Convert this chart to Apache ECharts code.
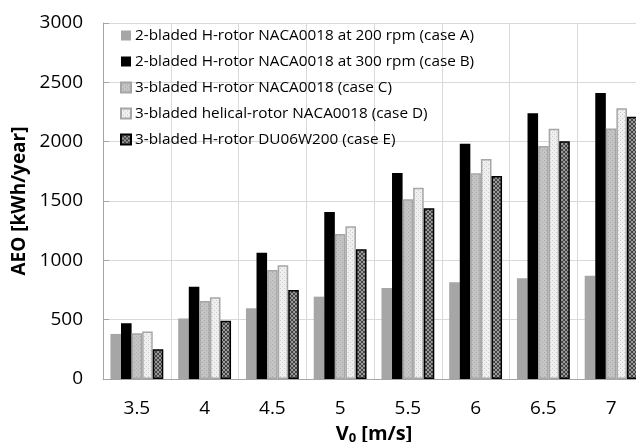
<!DOCTYPE html>
<html><head><meta charset="utf-8">
<script src="https://cdn.jsdelivr.net/npm/echarts@6/dist/echarts.min.js"></script>
<style>html,body{margin:0;padding:0;background:#fff}#c{width:636px;height:442px}</style>
</head><body><div id="c"></div>
<script>
const categories = ['3.5','4','4.5','5','5.5','6','6.5','7'];
const seriesNames = [
  '2-bladed H-rotor NACA0018 at 200 rpm (case A)',
  '2-bladed H-rotor NACA0018 at 300 rpm (case B)',
  '3-bladed H-rotor NACA0018 (case C)',
  '3-bladed helical-rotor NACA0018 (case D)',
  '3-bladed H-rotor DU06W200 (case E)'
];
const caseA = [380, 510, 596, 694, 767, 815, 848, 871];
const caseB = [470, 778, 1064, 1407, 1736, 1983, 2239, 2410];
const caseC = [385, 657, 918, 1222, 1514, 1733, 1963, 2112];
const caseD = [400, 688, 958, 1287, 1612, 1854, 2109, 2281];
const caseE = [250, 490, 750, 1093, 1438, 1711, 2003, 2210];
const yTicks = [0, 500, 1000, 1500, 2000, 2500, 3000];

function pattern(bg, fg, kind) {
  const c = document.createElement('canvas');
  c.width = 4; c.height = 4;
  const g = c.getContext('2d');
  g.fillStyle = bg; g.fillRect(0, 0, 4, 4);
  g.fillStyle = fg;
  if (kind === 'dots') {
    g.fillRect(0, 0, 1, 1); g.fillRect(2, 2, 1, 1);
  } else if (kind === 'hatch') {
    for (let i = 0; i < 4; i++) { g.fillRect(i, i, 1, 1); g.fillRect(3 - i, i, 1, 1); }
  }
  return { image: c, repeat: 'repeat' };
}
const fillC = pattern('#c4c4c4', '#aaaaaa', 'dots');
const fillD = pattern('#efefef', '#cacaca', 'dots');
const fillE = pattern('#9a9a9a', '#444444', 'hatch');

const styles = [
  { color: '#a6a6a6' },
  { color: '#000000' },
  { color: fillC, borderColor: '#a6a6a6', borderWidth: 1.5 },
  { color: fillD, borderColor: '#a6a6a6', borderWidth: 1.5 },
  { color: fillE, borderColor: '#000000', borderWidth: 1.5 }
];
const dataSets = [caseA, caseB, caseC, caseD, caseE];
const FONT = 'Open Sans';

const chart = echarts.init(document.getElementById('c'), null, { renderer: 'canvas' });
chart.setOption({
  animation: false,
  backgroundColor: '#fff',
  textStyle: { fontFamily: FONT },
  grid: { left: 103, top: 23, width: 542, height: 356, containLabel: false, outerBoundsMode: 'none' },
  legend: {
    orient: 'vertical', left: 115, top: 23,
    itemWidth: 10, itemHeight: 10, itemGap: 11,
    icon: 'rect',
    textStyle: { fontFamily: FONT, fontSize: 15.3, color: '#000', padding: [0, 0, 0, -1] },
    data: seriesNames
  },
  xAxis: {
    type: 'category', data: categories,
    axisLine: { lineStyle: { color: '#a6a6a6' } },
    axisTick: { show: false },
    axisLabel: { fontSize: 19, color: '#000', margin: 20, fontFamily: FONT },
    splitLine: { show: true, interval: 0, lineStyle: { color: '#d9d9d9' } },
    name: '{v|V}{s|0}{v| [m/s]}', nameLocation: 'middle', nameGap: 44,
    nameTextStyle: {
      rich: {
        v: { fontSize: 20, fontWeight: 'bold', color: '#000', fontFamily: FONT },
        s: { fontSize: 13, fontWeight: 'bold', color: '#000', fontFamily: FONT, verticalAlign: 'bottom', padding: [9, 0, 0, 0] }
      }
    }
  },
  yAxis: {
    type: 'value', min: yTicks[0], max: yTicks[yTicks.length - 1], interval: yTicks[1] - yTicks[0],
    axisLine: { show: true, lineStyle: { color: '#a6a6a6' } },
    axisTick: { show: true, inside: true, length: 6, lineStyle: { color: '#a6a6a6' } },
    axisLabel: { fontSize: 19, color: '#000', margin: 20, fontFamily: FONT, formatter: v => String(v) },
    splitLine: { lineStyle: { color: '#d9d9d9' } },
    name: 'AEO [kWh/year]', nameLocation: 'middle', nameGap: 66, nameRotate: 90,
    nameTextStyle: { fontSize: 19, fontWeight: 'bold', color: '#000', fontFamily: FONT }
  },
  series: seriesNames.map((n, i) => ({
    name: n, type: 'bar', data: dataSets[i],
    barGap: '0%', barCategoryGap: '22%',
    itemStyle: styles[i]
  }))
});
</script></body></html>
